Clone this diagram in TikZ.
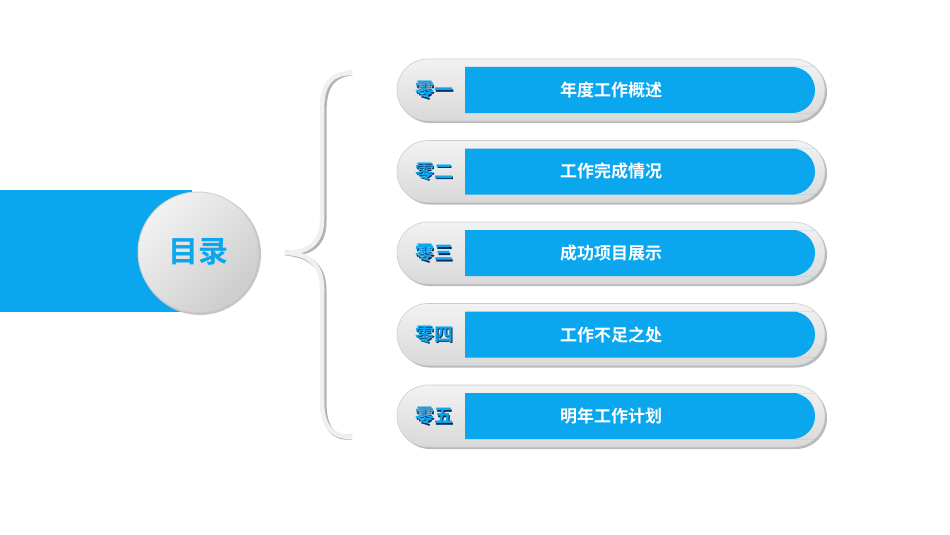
\documentclass[tikz,border=0pt]{standalone}
\usepackage{fontspec}
\newfontfamily\cjk{Noto Sans CJK SC}[BoldFont={Noto Sans CJK SC Bold}]
\usetikzlibrary{shadows}
\definecolor{sky}{HTML}{0AA6EE}
\definecolor{navy}{HTML}{0B2A5A}
\tikzset{
 pill/.style={rounded corners=31pt, top color=gray!10, bottom color=gray!30, draw=gray!40, line width=0.6pt},
 bar/.style={fill=sky},
 num/.style={font=\cjk\bfseries\fontsize{19}{19}\selectfont, text=sky},
 title/.style={font=\cjk\bfseries\fontsize{17}{17}\selectfont, text=white}
}
\begin{document}
\begin{tikzpicture}[x=1pt,y=-1pt]
\useasboundingbox (0,0) rectangle (950,535);
% band and circle
\fill[sky] (0,190) rectangle (192,312);
\fill[gray!45] (200,254) circle (61);
\node[circle, minimum size=120pt, inner sep=0, left color=gray!10, right color=gray!40, shading angle=45, draw=gray!35, line width=1pt] (c) at (198,252) {};
\node[font=\cjk\bfseries\fontsize{30}{30}\selectfont, text=sky] (m) at (198,252) {目录};
% brace
\coordinate (bt) at (352,73); \coordinate (bm) at (285,253); \coordinate (bb) at (352,437);
\foreach \dx/\col/\w in {2/gray!60/5, 0/gray!12/4.5}{
\draw[line width=\w pt, \col, xshift=\dx pt, yshift=-\dx pt]
 (bt) .. controls (330,73) and (322,85) .. (322,110) -- (322,220)
 .. controls (322,245) and (305,253) .. (bm)
 .. controls (305,253) and (322,262) .. (322,288) -- (322,400)
 .. controls (322,425) and (330,437) .. (bb);
}
% rows
\foreach \i/\n/\t in {1/零一/年度工作概述, 2/零二/工作完成情况, 3/零三/成功项目展示, 4/零四/工作不足之处, 5/零五/明年工作计划}{
 \pgfmathsetmacro{\yy}{90+81.5*(\i-1)}
 \fill[gray!55] (399,\yy-29) [rounded corners=31pt] rectangle (827,\yy+33);
 \draw[pill] (397,\yy-31) rectangle (825,\yy+31);
 \fill[bar] (465,\yy-23) [rounded corners=23pt] -- (792,\yy-23) -- (815,\yy-23) -- (815,\yy+23) -- (792,\yy+23) [sharp corners] -- (465,\yy+23) -- cycle;
 \node[num, text=navy] (s\i) at (435.5,\yy+1.5) {\n};
 \node[num] (n\i) at (434,\yy) {\n};
 \node[title] (t\i) at (611,\yy) {\t};
}
\end{tikzpicture}
\end{document}
